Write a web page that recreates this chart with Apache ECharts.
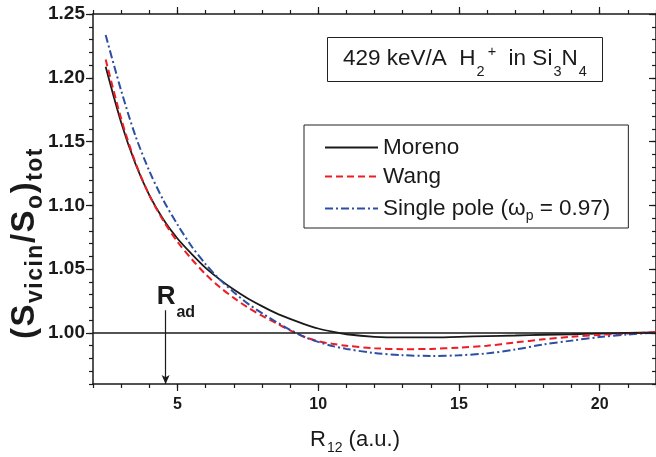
<!DOCTYPE html>
<html><head><meta charset="utf-8">
<script src="https://cdn.jsdelivr.net/npm/echarts@6/dist/echarts.min.js"></script>
<style>html,body{margin:0;padding:0;background:#fff}#c{width:656px;height:457px}</style>
</head><body><div id="c"></div>
<script>
const xValues = [2.45,3,3.5,4,4.5,5,5.5,6,6.5,7,7.5,8,8.5,9,9.5,10,10.5,11,12,13,14,15,16,17,18,19,20,21,22];
const moreno = [1.2086,1.165,1.133,1.108,1.089,1.074,1.062,1.051,1.042,1.034,1.027,1.021,1.0155,1.011,1.007,1.0035,1.001,0.999,0.997,0.9965,0.9965,0.997,0.9975,0.998,0.9986,0.999,0.9995,1.0,1.0004];
const wang = [1.2144,1.168,1.134,1.108,1.088,1.0715,1.058,1.046,1.036,1.0275,1.020,1.0135,1.0078,1.002,0.997,0.9935,0.9915,0.990,0.988,0.9873,0.9875,0.9885,0.990,0.9925,0.995,0.997,0.9985,0.9996,1.0006];
const singlePole = [1.2335,1.190,1.155,1.127,1.104,1.085,1.068,1.054,1.042,1.032,1.023,1.0155,1.0088,1.0025,0.997,0.993,0.9898,0.9875,0.9843,0.9826,0.982,0.9825,0.984,0.987,0.991,0.994,0.9968,0.9988,1.0004];
const xMajorTicks = [5,10,15,20];
const yMajorTicks = [1.00,1.05,1.10,1.15,1.20,1.25];
const seriesNames = ['Moreno','Wang','Single pole'];
const refLineValue = 1.0;
const rAdX = 4.58, rAdTop = 1.0178;

const FONT = '"Liberation Sans", Arial, Helvetica, sans-serif';
const INK = '#1a1a1a';
const pairs = a => xValues.map((x,i)=>[x,a[i]]);
const lineAx = {show:true, onZero:false, lineStyle:{color:INK, width:1.5}};
const tickSt = {color:INK, width:1.2};

// y-axis title, spaced out letter by letter (base / subscript parts)
const yTitleParts = [['b','(S'],['s','vicin'],['b','/S'],['s','o'],['b',')'],['s','tot']];
const yTitleText = yTitleParts.map(([k,t]) => t.split('').map(c => '{'+k+'|'+c+'}').join('')).join('');

const chart = echarts.init(document.getElementById('c'));
chart.setOption({
  animation:false,
  backgroundColor:'#fff',
  textStyle:{fontFamily:FONT},
  grid:{left:93, top:14, right:-2, bottom:73, containLabel:false},
  title:{
    text:'{a|429 keV/A  H}{sub|2}{sup|+}{a|  in Si}{sub|3}{a|N}{sub|4}',
    left:327, top:44, borderWidth:1, borderColor:'#222', padding:[2,16,3,16],
    textStyle:{fontWeight:'normal', rich:{
      a:{fontFamily:FONT, fontSize:22.5, fontWeight:'normal', lineHeight:26, color:INK},
      sub:{fontFamily:FONT, fontSize:14.5, fontWeight:'normal', lineHeight:15, padding:[25,0,0,1], color:INK},
      sup:{fontFamily:FONT, fontSize:14.5, fontWeight:'normal', lineHeight:15, padding:[0,0,14,3], color:INK}
    }}
  },
  legend:{
    orient:'vertical', left:304, top:125, itemWidth:53, itemHeight:14, itemGap:6,
    padding:[11,18,5,20], borderColor:'#222', borderWidth:1,
    data:seriesNames,
    itemStyle:{opacity:0},
    textStyle:{fontFamily:FONT, fontSize:22.5, color:INK, lineHeight:22,
      rich:{a:{fontFamily:FONT, fontSize:22.5, color:INK, lineHeight:22},
            s:{fontFamily:FONT, fontSize:14, color:INK, lineHeight:14, padding:[15,0,0,0]}}},
    formatter:n => n==='Single pole' ? '{a|Single pole (ω}{s|p}{a| = 0.97)}' : n
  },
  xAxis:[
    {type:'value', min:2, max:22, interval:1, position:'bottom', axisLine:lineAx,
     axisTick:{length:4, lineStyle:tickSt}, splitLine:{show:false},
     axisLabel:{customValues:xMajorTicks, fontFamily:FONT, fontSize:16, fontWeight:'bold', color:INK, margin:13}},
    {type:'value', min:2, max:22, position:'bottom', axisLine:{show:false, onZero:false},
     axisTick:{customValues:xMajorTicks, length:7, lineStyle:tickSt}, axisLabel:{show:false}, splitLine:{show:false}},
    {type:'value', min:2, max:22, interval:1, position:'top', axisLine:lineAx,
     axisTick:{length:4, lineStyle:tickSt}, axisLabel:{show:false}, splitLine:{show:false}},
    {type:'value', min:2, max:22, position:'top', axisLine:{show:false, onZero:false},
     axisTick:{customValues:xMajorTicks, length:7, lineStyle:tickSt}, axisLabel:{show:false}, splitLine:{show:false}}
  ],
  yAxis:[
    {type:'value', min:0.96, max:1.25, interval:0.01, position:'left', axisLine:lineAx,
     axisTick:{length:4, lineStyle:tickSt}, splitLine:{show:false},
     axisLabel:{customValues:yMajorTicks, formatter:v=>v.toFixed(2), fontFamily:FONT, fontSize:19, fontWeight:'bold', color:INK, margin:8}},
    {type:'value', min:0.96, max:1.25, position:'left', axisLine:{show:false, onZero:false},
     axisTick:{customValues:yMajorTicks, length:7, lineStyle:tickSt}, axisLabel:{show:false}, splitLine:{show:false}},
    {type:'value', min:0.96, max:1.25, interval:0.01, position:'right', axisLine:lineAx,
     axisTick:{inside:true, length:4, lineStyle:tickSt}, axisLabel:{show:false}, splitLine:{show:false}},
    {type:'value', min:0.96, max:1.25, position:'right', axisLine:{show:false, onZero:false},
     axisTick:{inside:true, customValues:yMajorTicks, length:7, lineStyle:tickSt}, axisLabel:{show:false}, splitLine:{show:false}}
  ],
  graphic:[{
    type:'text', x:25, y:243, rotation:Math.PI/2,
    style:{text:yTitleText, align:'center', verticalAlign:'middle',
      rich:{b:{fontFamily:FONT, fontSize:33, fontWeight:'bold', fill:INK, lineHeight:34, padding:[0,1.5,0,0]},
            s:{fontFamily:FONT, fontSize:23, fontWeight:'bold', fill:INK, lineHeight:23, padding:[22,1.5,0,0]}}}
  },{
    type:'text', x:355, y:440,
    style:{text:'{a|R}{s|12}{a| (a.u.)}', align:'center', verticalAlign:'middle',
      rich:{a:{fontFamily:FONT, fontSize:22, fill:INK, lineHeight:24},
            s:{fontFamily:FONT, fontSize:14, fill:INK, lineHeight:14, padding:[16,0,0,1]}}}
  }],
  series:[
    {name:'Moreno', type:'line', data:pairs(moreno), smooth:0.3, showSymbol:false, symbol:'none',
     lineStyle:{color:INK, width:1.8}, itemStyle:{color:INK},
     markLine:{silent:true, symbol:'none', label:{show:false}, lineStyle:{color:INK, width:1.5, type:'solid'},
       data:[{yAxis:refLineValue}]}},
    {name:'Wang', type:'line', data:pairs(wang), smooth:0.3, showSymbol:false, symbol:'none',
     lineStyle:{color:'#ee1c25', width:2, type:[7,4]}, itemStyle:{color:'#ee1c25'}},
    {name:'Single pole', type:'line', data:pairs(singlePole), smooth:0.3, showSymbol:false, symbol:'none',
     lineStyle:{color:'#2c4ea3', width:2, type:[8,3,2,3]}, itemStyle:{color:'#2c4ea3'},
     markLine:{silent:true, symbol:['none','arrow'], symbolSize:[6,9], label:{show:false},
       lineStyle:{color:INK, width:1.2, type:'solid'},
       data:[[{coord:[rAdX, rAdTop]},{coord:[rAdX, 0.96]}]]},
     markPoint:{silent:true, symbol:'circle', symbolSize:0,
       data:[{coord:[rAdX, rAdTop]}],
       label:{show:true, position:[-9,-26], align:'left', verticalAlign:'top',
         formatter:'{r|R}{d|ad}',
         rich:{r:{fontFamily:FONT, fontSize:26, fontWeight:'bold', color:INK, lineHeight:26},
               d:{fontFamily:FONT, fontSize:16, fontWeight:'bold', color:INK, lineHeight:16, padding:[31,0,0,1]}}}}}
  ]
});
</script></body></html>
